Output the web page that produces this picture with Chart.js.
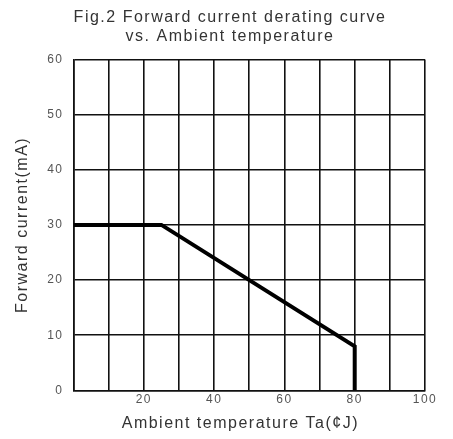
<!DOCTYPE html>
<html>
<head>
<meta charset="utf-8">
<script src="https://cdn.jsdelivr.net/npm/chart.js@4"></script>
<style>
  body { margin: 0; background: #fff; }
  #wrap { width: 453px; height: 439px; }
</style>
</head>
<body>
<div id="wrap"><canvas id="derating" width="453" height="439"></canvas></div>
<script>
// derating curve
const tempPoints = [0, 25, 80, 80]
const currentPoints = [30, 30, 8, 0]
const xTickLabels = [20, 40, 60, 80, 100]
const titleLines = ['Fig.2 Forward current derating curve', 'vs. Ambient temperature']

const fontName = '"Liberation Sans", Arial, sans-serif'

const curveData = tempPoints.map((t, i) => ({ x: t, y: currentPoints[i] }))

// the scanned figure uses a wide face, so spread the letters a bit
const wideText = {
  id: 'wideText',
  beforeLayout(chart) { chart.ctx.letterSpacing = '1.5px' },
  afterLayout(chart) {
    // title sits a little right of the canvas middle in the original
    if (chart.titleBlock) chart.titleBlock.left += 22
  },
  beforeDraw(chart) { chart.ctx.letterSpacing = '1.5px' },
}

const config = {
  type: 'scatter',
  data: {
    datasets: [{
      label: 'IF',
      data: curveData,
      showLine: true,
      borderColor: '#000',
      backgroundColor: '#000',
      borderWidth: 4,
      pointRadius: 0,
      tension: 0,
    }]
  },
  options: {
    responsive: false,
    animation: false,
    layout: {
      padding: { left: 13, right: 28, top: 6, bottom: 6 }
    },
    scales: {
      x: {
        type: 'linear',
        min: 0,
        max: 100,
        ticks: {
          stepSize: 10,
          autoSkip: false,
          maxRotation: 0,
          color: '#555',
          padding: 2,
          font: { family: fontName, size: 12 },
          callback: (v) => xTickLabels.includes(v) ? String(v) : '',
        },
        grid: { color: '#111', lineWidth: 1.6, drawTicks: false },
        border: { color: '#111', width: 1.6 },
        title: {
          display: true,
          text: 'Ambient temperature Ta(¢J)   ',
          color: '#333',
          padding: { top: 5, bottom: 0 },
          font: { family: fontName, size: 16 },
        }
      },
      y: {
        min: 0,
        max: 60,
        ticks: {
          stepSize: 10,
          color: '#555',
          padding: 10,
          font: { family: fontName, size: 12 },
        },
        grid: { color: '#111', lineWidth: 1.6, drawTicks: false },
        border: { color: '#111', width: 1.6 },
        title: {
          display: true,
          text: 'Forward current(mA)',
          color: '#333',
          padding: { top: 0, bottom: 5 },
          font: { family: fontName, size: 16 },
        }
      }
    },
    plugins: {
      legend: { display: false },
      tooltip: { enabled: false },
      title: {
        display: true,
        text: titleLines,
        color: '#333',
        padding: { top: 2, bottom: 13 },
        font: { family: fontName, size: 16, weight: 'normal', lineHeight: 1.2 },
      }
    }
  },
  plugins: [wideText],
}

const derating = new Chart(document.getElementById('derating'), config)
</script>
</body>
</html>
